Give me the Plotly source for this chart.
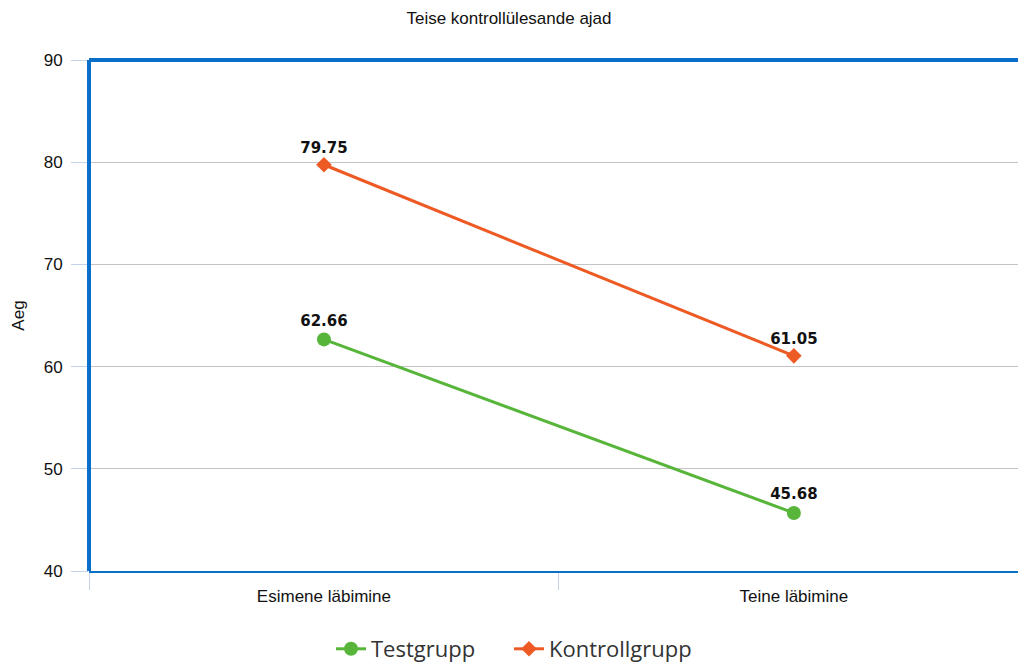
import plotly.graph_objects as go

categories = ["Esimene läbimine", "Teine läbimine"]
test_values = [62.66, 45.68]
control_values = [79.75, 61.05]
y_ticks = [40, 50, 60, 70, 80, 90]

green = "#57b53a"
orange = "#ee5a24"
axis_blue = "#0a6fc9"
tick_blue = "#c3d4ea"
base_font = "Liberation Sans, Arial"
label_font = dict(family="DejaVu Sans", size=15, color="#111111", weight="bold")

fig = go.Figure()

fig.add_trace(go.Scatter(
    x=categories, y=test_values, name="Testgrupp",
    mode="lines+markers+text",
    line=dict(color=green, width=3),
    marker=dict(symbol="circle", size=14, color=green),
    text=[f"{v:.2f}" for v in test_values],
    textposition="top center",
    textfont=label_font,
    legend="legend",
))
fig.add_trace(go.Scatter(
    x=categories, y=control_values, name="Kontrollgrupp",
    mode="lines+markers+text",
    line=dict(color=orange, width=3),
    marker=dict(symbol="diamond", size=12, color=orange),
    text=[f"{v:.2f}" for v in control_values],
    textposition="top center",
    textfont=label_font,
    legend="legend2",
))

legend_style = dict(orientation="h", xref="container", xanchor="left",
                    y=1 - 649 / 663, yref="container", yanchor="middle",
                    font=dict(family="Open Sans, Noto Sans", size=22, color="#333333"),
                    itemwidth=30)

fig.update_layout(
    width=1018, height=663,
    margin=dict(l=89, r=0, t=60, b=92),
    plot_bgcolor="white", paper_bgcolor="white",
    title=dict(text="Teise kontrollülesande ajad", x=0.5, xref="container", xanchor="center",
               y=1 - 18 / 663, yref="container", yanchor="middle",
               font=dict(family=base_font, size=17, color="#111111")),
    xaxis=dict(
        type="category",
        range=[-0.5, 1.477],
        tickson="boundaries", ticks="outside", ticklen=17, tickcolor=tick_blue, tickwidth=1,
        ticklabelstandoff=9,
        showgrid=False, zeroline=False,
        showline=True, linecolor=axis_blue, linewidth=2,
        tickfont=dict(family=base_font, size=17, color="#111111"),
    ),
    yaxis=dict(
        range=[40, 90], tickvals=y_ticks,
        ticks="outside", ticklen=17, tickcolor=tick_blue, tickwidth=1,
        ticklabelstandoff=5,
        showgrid=True, gridcolor="#c4c4c4", gridwidth=1, zeroline=False,
        showline=False,
        title=dict(text="Aeg", font=dict(family=base_font, size=17, color="#111111"),
                   standoff=14),
        tickfont=dict(family=base_font, size=17, color="#111111"),
    ),
    legend=dict(x=331 / 1018, **legend_style),
    legend2=dict(x=509 / 1018, **legend_style),
    showlegend=True,
)

# Frame lines along the top and left of the plotting area
fig.add_shape(type="line", xref="paper", yref="paper", x0=0, x1=1, y0=1, y1=1,
              line=dict(color=axis_blue, width=4), layer="above")
fig.add_shape(type="line", xref="paper", yref="paper", x0=0, x1=0, y0=0, y1=1,
              line=dict(color=axis_blue, width=4), layer="above")

fig.write_html("out.html")
